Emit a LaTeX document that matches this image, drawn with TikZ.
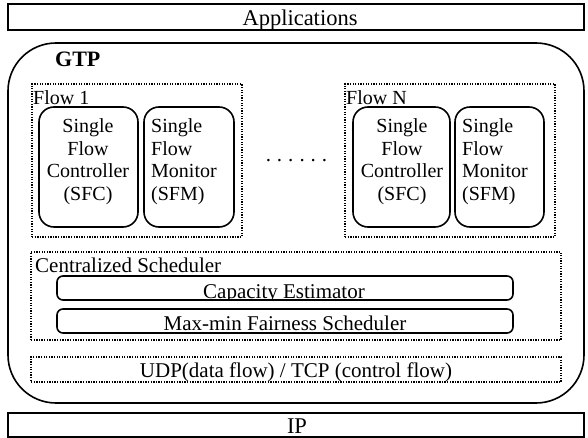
\documentclass[tikz,border=0pt]{standalone}
\usepackage{fontspec}
\setmainfont{Liberation Serif}
\begin{document}
\begin{tikzpicture}[x=1pt,y=-1pt,
  solidbox/.style={draw, line width=1.6pt, inner sep=0pt, outer sep=0pt},
  dotbox/.style={draw, line width=1.3pt, dash pattern=on 1.3pt off 1.3pt, inner sep=0pt, outer sep=0pt},
  lbl/.style={inner sep=0pt, anchor=base, font=\fontsize{21}{25}\selectfont},
  biglbl/.style={inner sep=0pt, anchor=base, font=\fontsize{22.5}{26}\selectfont},
  flowlbl/.style={inner sep=0pt, anchor=base west, font=\fontsize{20}{22.5}\selectfont},
  ctext/.style={inner sep=0pt, anchor=north, align=center, font=\fontsize{20}{22.5}\selectfont},
  ltext/.style={inner sep=0pt, anchor=north west, align=left, font=\fontsize{20}{22.5}\selectfont}]
\useasboundingbox (0,0) rectangle (588,438);

% outer boxes
\node[solidbox, minimum width=576pt, minimum height=26pt] (app) at (296,17) {};
\node[biglbl] (apptext) at (300,26) {Applications};

\node[solidbox, rounded corners=48pt, minimum width=576pt, minimum height=360pt] (gtp) at (296,223) {};
\node[inner sep=0pt, anchor=base west, font=\fontsize{22}{26}\selectfont\bfseries] (gtptext) at (55,67) {GTP};

% Flow 1
\node[dotbox, minimum width=210pt, minimum height=153pt] (flow1) at (137,160.5) {};
\node[flowlbl] (flow1text) at (33,105) {Flow 1};
\node[solidbox, rounded corners=15pt, minimum width=99pt, minimum height=120pt] (sfc1) at (88.5,167) {};
\node[solidbox, rounded corners=15pt, minimum width=90pt, minimum height=120pt] (sfm1) at (189,167) {};
\node[ctext] (sfc1text) at (88,118.5) {Single\\Flow\\Controller\\(SFC)};
\node[ltext] (sfm1text) at (151,118.5) {Single\\Flow\\Monitor\\(SFM)};

% dots
\node[lbl] (dots) at (296.5,162) {.\kern6pt.\kern6pt.\kern6pt.\kern6pt.\kern6pt.};

% Flow N
\node[dotbox, minimum width=210pt, minimum height=153pt] (flowN) at (450,160.5) {};
\node[flowlbl] (flowNtext) at (346,105) {Flow N};
\node[solidbox, rounded corners=15pt, minimum width=97pt, minimum height=120pt] (sfcN) at (401.5,167) {};
\node[solidbox, rounded corners=15pt, minimum width=89pt, minimum height=120pt] (sfmN) at (499.5,167) {};
\node[ctext] (sfcNtext) at (402,118.5) {Single\\Flow\\Controller\\(SFC)};
\node[ltext] (sfmNtext) at (462,118.5) {Single\\Flow\\Monitor\\(SFM)};

% Centralized scheduler
\node[dotbox, minimum width=530pt, minimum height=88pt] (sched) at (296,296) {};
\node[lbl, anchor=base west] (schedtext) at (35,272) {Centralized Scheduler};
\node[solidbox, rounded corners=6pt, minimum width=456pt, minimum height=24pt] (cap) at (285,288) {};
\begin{scope}
  \clip (cap.north west) rectangle (cap.south east);
  \node[lbl] (captext) at (284,298) {Capacity Estimator};
\end{scope}
\node[solidbox, rounded corners=6pt, minimum width=456pt, minimum height=24pt] (mm) at (285,321) {};
\node[lbl] (mmtext) at (285,330) {Max-min Fairness Scheduler};

% UDP/TCP
\node[dotbox, minimum width=530pt, minimum height=25pt] (udp) at (296,369.5) {};
\node[lbl] (udptext) at (296,377) {UDP(data flow) / TCP (control flow)};

% IP
\node[solidbox, minimum width=576pt, minimum height=24pt] (ip) at (296,425) {};
\node[biglbl] (iptext) at (297,433) {IP};
\end{tikzpicture}
\end{document}
